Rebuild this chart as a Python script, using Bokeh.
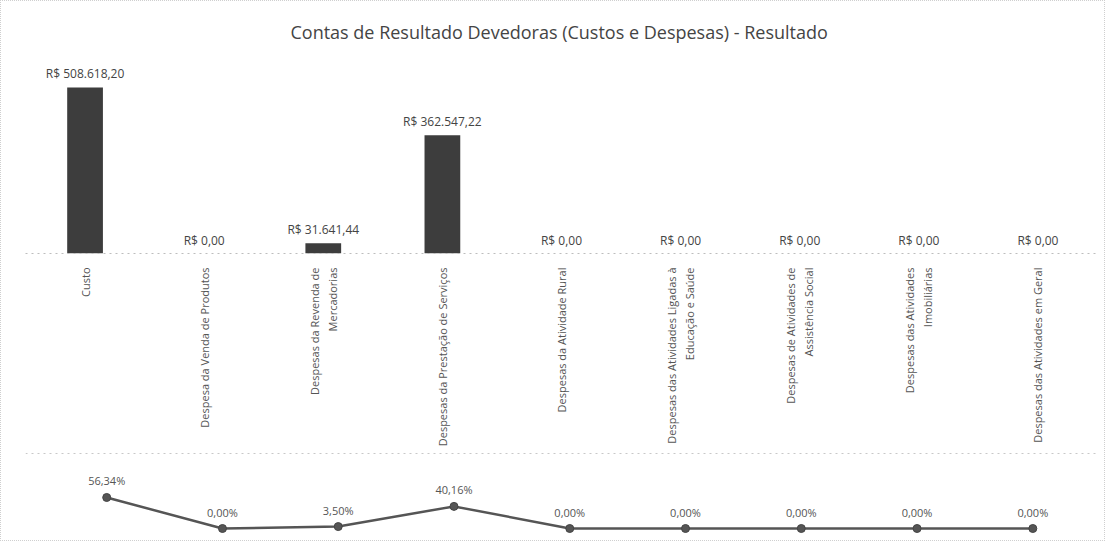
import math
from bokeh.plotting import figure
from bokeh.layouts import column
from bokeh.models import ColumnDataSource, Span
from bokeh.core.properties import value
from bokeh.embed import file_html
from bokeh.resources import INLINE

categories = [
    "Custo",
    "Despesa da Venda de Produtos",
    "Despesas da Revenda de\nMercadorias",
    "Despesas da Prestação de Serviços",
    "Despesas da Atividade Rural",
    "Despesas das Atividades Ligadas à\nEducação e Saúde",
    "Despesas de Atividades de\nAssistência Social",
    "Despesas das Atividades\nImobiliárias",
    "Despesas das Atividades em Geral",
]
values = [508618.20, 0.0, 31641.44, 362547.22, 0.0, 0.0, 0.0, 0.0, 0.0]
percents = [56.34, 0.00, 3.50, 40.16, 0.00, 0.00, 0.00, 0.00, 0.00]


def brl(v):
    s = f"{v:,.2f}".replace(",", "X").replace(".", ",").replace("X", ".")
    return "R$ " + s


def pct(v):
    return f"{v:.2f}".replace(".", ",") + "%"


FONT = "Open Sans"
W = 1103
LEFT = 24
RIGHT = 7
N = len(categories)

src = ColumnDataSource(dict(cat=categories, val=values, lab=[brl(v) for v in values]))

top = figure(x_range=categories, y_range=(0, 606640), width=W, height=451,
             output_backend="svg", toolbar_location=None,
             min_border_left=LEFT, min_border_right=RIGHT, min_border_top=54,
             min_border_bottom=199)
top.title.text = "Contas de Resultado Devedoras  (Custos e Despesas) - Resultado"
top.title.align = "center"
top.title.text_font = FONT
top.title.text_font_size = "18px"
top.title.text_font_style = "normal"
top.title.text_color = "#444444"
top.title.standoff = 24

top.vbar(x="cat", top="val", width=0.3, source=src, fill_color="#3d3d3d",
         line_color=None)
top.text(x="cat", y="val", text="lab", source=src, y_offset=-5,
         text_align="center", text_baseline="bottom", text_font=value(FONT),
         text_font_size="12px", text_color="#444444")

top.yaxis.visible = False
top.xgrid.grid_line_color = None
top.ygrid.grid_line_color = None
top.outline_line_color = None
top.xaxis.axis_line_color = "#bdbdbd"
top.xaxis.axis_line_dash = "dotted"
top.xaxis.major_tick_line_color = None
top.xaxis.minor_tick_line_color = None
top.xaxis.major_label_orientation = math.pi / 2
top.xaxis.major_label_text_font = FONT
top.xaxis.major_label_text_font_size = "11px"
top.xaxis.major_label_text_color = "#555555"
top.xaxis.major_label_standoff = 8
top.x_range.range_padding = 0
top.x_range.factor_padding = 0

# bottom percent line chart
xs = list(range(N))
px_per_cat = (W - LEFT - RIGHT) / N
bsrc = ColumnDataSource(dict(x=xs, p=percents, lab=[pct(v) for v in percents]))
bottom = figure(x_range=(-0.5 - LEFT / px_per_cat, N - 0.5 + RIGHT / px_per_cat),
                y_range=(-21.8, 138.1), width=W, height=88,
                output_backend="svg", toolbar_location=None,
                min_border=0)
bottom.line(x="x", y="p", source=bsrc, line_color="#555555", line_width=2.5)
bottom.scatter(x="x", y="p", source=bsrc, size=8, fill_color="#555555",
               line_color="#444444")
bottom.text(x="x", y="p", text="lab", source=bsrc, y_offset=-9,
            text_align="center", text_baseline="bottom", text_font=value(FONT),
            text_font_size="11px", text_color="#555555")
bottom.add_layout(Span(location=136.3, dimension="width", line_color="#c8c8c8",
                       line_dash="dotted", line_width=1))
bottom.axis.visible = False
bottom.xgrid.grid_line_color = None
bottom.ygrid.grid_line_color = None
bottom.outline_line_color = None

layout = column(top, bottom, spacing=0, styles={"border": "1px dotted #cfcfcf"})

open("out.html", "w").write(file_html(layout, INLINE))
